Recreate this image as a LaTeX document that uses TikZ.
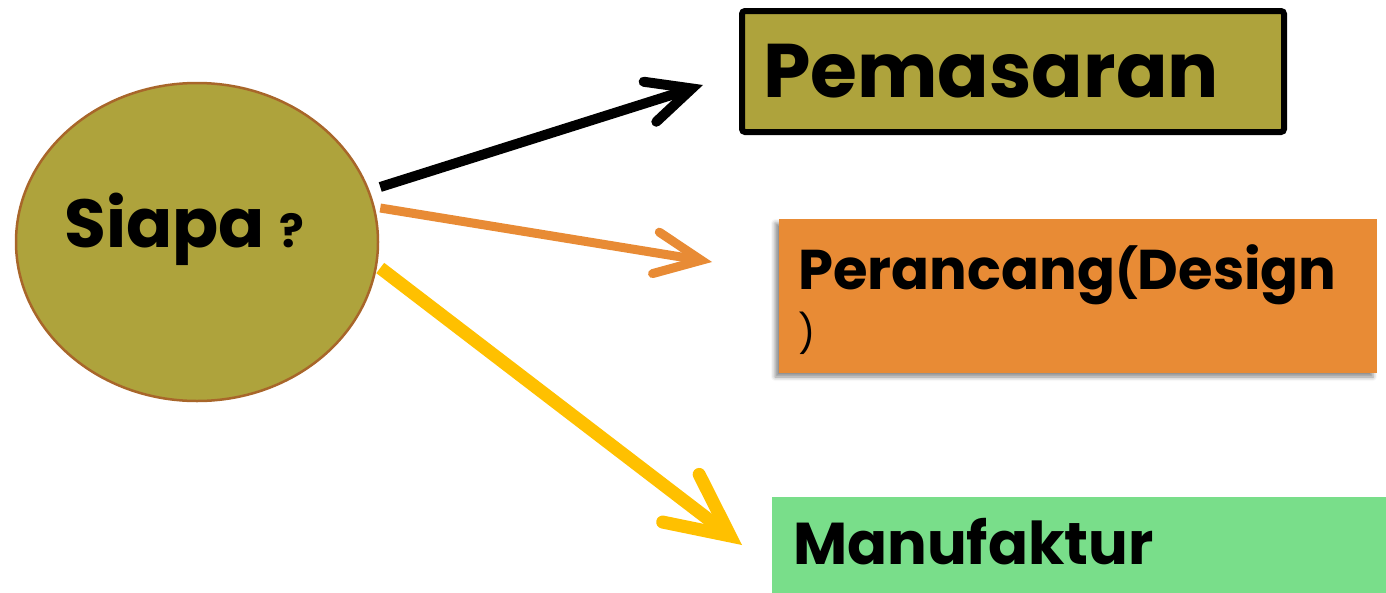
\documentclass[tikz,border=0pt]{standalone}
\usepackage{fontspec}
\setmainfont{Poppins}
\usetikzlibrary{shapes.geometric,arrows.meta,calc,shadows.blur}
\definecolor{siolive}{HTML}{AEA33C}
\definecolor{sibrown}{HTML}{A8662A}
\definecolor{siorange}{HTML}{E88B35}
\definecolor{siyellow}{HTML}{FFC000}
\definecolor{sigreen}{HTML}{79DE8A}
\begin{document}
\begin{tikzpicture}[x=1pt,y=-1pt,
  boxtext/.style={anchor=base west, inner sep=0pt, font=\bfseries},
  conn/.style={line cap=butt},
  arrblack/.style={conn, draw=black, line width=10pt,
    -{Straight Barb[length=44pt, width=42pt, line cap=round, line join=miter]}},
  arrorange/.style={conn, draw=siorange, line width=9pt,
    -{Straight Barb[length=46pt, width=42pt, line cap=round, line join=miter]}},
  arryellow/.style={conn, draw=siyellow, line width=13pt,
    -{Straight Barb[length=62pt, width=60pt, line cap=round, line join=miter]}}
]
\useasboundingbox (0,0) rectangle (1386,592);

% central ellipse
\node[ellipse, draw=sibrown, line width=2.5pt, fill=siolive,
      minimum width=362pt, minimum height=318pt, inner sep=0pt] (siapa) at (197,242) {};
\node[boxtext] (siapatext) at (64,247)
  {\fontsize{68}{74}\selectfont Siapa {\fontsize{46}{50}\selectfont ?}};

% Pemasaran box
\node[draw=black, line width=6pt, fill=siolive, rounded corners=3pt,
      minimum width=542pt, minimum height=121pt, inner sep=0pt] (pembox) at (1013,71.5) {};
\node[boxtext] (pemtext) at (763,97) {\fontsize{76}{84}\selectfont Pemasaran};

% Perancang box
\node[fill=siorange, minimum width=598pt, minimum height=154pt, inner sep=0pt,
      blur shadow={shadow xshift=-4pt, shadow yshift=-4pt, shadow blur radius=4pt, shadow opacity=45}]
      (perbox) at (1078,296) {};
\node[boxtext, align=left] (pertext) at (798,347)
  {\fontsize{56}{68}\selectfont Perancang{\fontsize{48}{68}\selectfont(}Design\\[6pt]
   \mdseries\fontsize{38}{40}\selectfont )};

% Manufaktur box
\node[fill=sigreen, minimum width=620pt, minimum height=100pt, inner sep=0pt] (manbox) at (1082,547) {};
\node[boxtext] (mantext) at (793,564) {\fontsize{59}{66}\selectfont Manufaktur};

% arrow tips (free ends)
\coordinate (tipA) at (703,85);
\coordinate (tipB) at (712,262);
\coordinate (tipC) at (742,545);

\draw[arrblack]  ($(siapa.east)+(1,-55)$) -- (tipA);
\draw[arrorange] ($(siapa.east)+(1,-34)$) -- (tipB);
\draw[arryellow] ($(siapa.east)+(1,26)$) -- (tipC);
\end{tikzpicture}
\end{document}
